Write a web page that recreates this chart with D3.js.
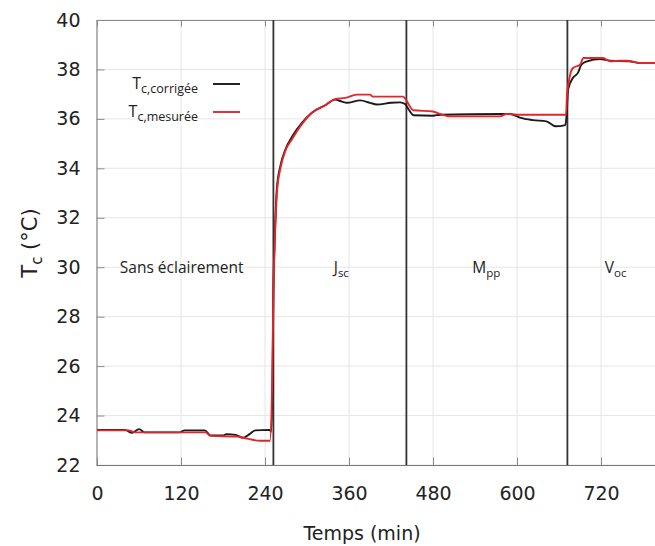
<!DOCTYPE html>
<html><head><meta charset="utf-8">
<script src="https://cdn.jsdelivr.net/npm/d3@7"></script>
<style>
body{margin:0;background:#fff;}
svg{display:block;}
</style></head>
<body>
<svg id="chart" width="655" height="546"></svg>
<script>
// ---- data ----
const xTicks = [0, 120, 240, 360, 480, 600, 720];
const yTicks = [22, 24, 26, 28, 30, 32, 34, 36, 38, 40];
const phaseTimes = [252, 442, 672];
const phaseLabels = [
  {t: 121, main: "Sans éclairement", sub: ""},
  {t: 349, main: "J", sub: "sc"},
  {t: 556, main: "M", sub: "pp"},
  {t: 741, main: "V", sub: "oc"}
];
const seriesNames = ["corrigée", "mesurée"];
const tCorr = [0,40,50,60,68,118,125,154,162,180,185,198,209,218,226,246,249,251,252,254,257,262,269,279,293,307,326,340,350,357,376,390,400,420,433,440,446,452,480,490,580,590,604,623,642,655,669,671,673,680,687,692,700,719,733,760,776,800];
const vCorr = [23.42,23.42,23.3,23.45,23.32,23.32,23.4,23.4,23.2,23.2,23.25,23.22,23.1,23.25,23.4,23.42,23.35,26,29,31.2,33.2,34.1,34.75,35.3,35.85,36.25,36.55,36.78,36.7,36.65,36.75,36.65,36.58,36.65,36.67,36.6,36.35,36.15,36.13,36.17,36.2,36.2,36.05,35.95,35.9,35.7,35.75,36.2,37.2,37.66,37.86,38.19,38.33,38.42,38.35,38.33,38.26,38.26];
const tMes = [0,45,55,155,162,200,209,233,247,250,252,254,257,262,269,279,293,307,326,340,355,371,390,394,437,442,447,452,480,490,505,576,585,600,670,671.5,674,676,680,690,695,723,733,748,757,776,800];
const vMes = [23.4,23.4,23.32,23.32,23.18,23.15,23.1,22.98,22.98,25,29,31,33,34,34.7,35.2,35.8,36.25,36.55,36.8,36.85,36.98,36.98,36.9,36.9,36.75,36.5,36.35,36.3,36.2,36.1,36.1,36.2,36.17,36.17,37.0,37.5,37.8,38.06,38.19,38.46,38.46,38.33,38.35,38.35,38.26,38.26];

// ---- layout ----
const svg = d3.select("#chart");
const L = 97, R = 657, T = 20, B = 465;
const x = d3.scaleLinear().domain([0, 800]).range([L, R]);
const y = d3.scaleLinear().domain([22, 40]).range([B, T]);
const tickFont = "DejaVu Sans, sans-serif";
const labFont = "'Open Sans', 'Noto Sans', sans-serif";

svg.append("defs").append("clipPath").attr("id","clip")
  .append("rect").attr("x", L).attr("y", T).attr("width", R - L).attr("height", B - T);

// grid
const grid = svg.append("g");
grid.selectAll("line.gy").data(yTicks).join("line")
  .attr("x1", L).attr("x2", 655).attr("y1", d => y(d)).attr("y2", d => y(d))
  .attr("stroke", "#e6e6e6").attr("stroke-width", 1);
grid.selectAll("line.gx").data(xTicks).join("line")
  .attr("y1", T).attr("y2", B).attr("x1", d => x(d)).attr("x2", d => x(d))
  .attr("stroke", "#e6e6e6").attr("stroke-width", 1);

// axes (ticks inward)
const yAxis = svg.append("g").attr("transform", `translate(${L-0.5},0)`)
  .call(d3.axisLeft(y).tickValues(yTicks).tickSize(-8).tickPadding(16).tickFormat(d3.format("d")));
const xAxis = svg.append("g").attr("transform", `translate(0,${B+0.5})`)
  .call(d3.axisBottom(x).tickValues(xTicks).tickSize(-8).tickPadding(16).tickFormat(d3.format("d")));
const xTop = svg.append("g").attr("transform", `translate(0,${T+0.5})`)
  .call(d3.axisTop(x).tickValues(xTicks).tickSize(-6).tickFormat(""));
[yAxis, xAxis, xTop].forEach(a => {
  a.select(".domain").attr("stroke", "#8a8a8a").attr("stroke-width", 1.2);
  a.selectAll(".tick line").attr("stroke", "#8a8a8a");
  a.selectAll("text").attr("font-family", tickFont).attr("font-size", 19).attr("fill", "#222");
});
xTop.select(".domain").attr("d", `M${L},0H655`);
xAxis.select(".domain").attr("d", `M${L},0H655`).attr("stroke", "#777");
xAxis.selectAll("text").attr("dy", "0.95em");

// phase lines
svg.append("g").selectAll("line").data(phaseTimes).join("line")
  .attr("x1", d => x(d)).attr("x2", d => x(d)).attr("y1", T).attr("y2", B)
  .attr("stroke", "#333").attr("stroke-width", 1.8);

// series
const line = d3.line().x(d => x(d[0])).y(d => y(d[1])).curve(d3.curveMonotoneX);
const dataCorr = tCorr.map((t, i) => [t, vCorr[i]]);
const dataMes = tMes.map((t, i) => [t, vMes[i]]);
const plot = svg.append("g").attr("clip-path", "url(#clip)");
plot.append("path").datum(dataCorr).attr("d", line)
  .attr("fill", "none").attr("stroke", "#1a1a1a").attr("stroke-width", 1.9).attr("stroke-linejoin", "round");
plot.append("path").datum(dataMes).attr("d", line)
  .attr("fill", "none").attr("stroke", "#e3262b").attr("stroke-width", 1.9).attr("stroke-linejoin", "round");

// phase labels
phaseLabels.forEach(p => {
  const t = svg.append("text").attr("x", x(p.t)).attr("y", 273)
    .attr("text-anchor", "middle").attr("font-family", labFont).attr("font-size", 15.5).attr("fill", "#222");
  t.append("tspan").text(p.main);
  if (p.sub) t.append("tspan").attr("font-size", 11.5).attr("dy", 4).text(p.sub);
});

// legend
const legColors = ["#1a1a1a", "#e3262b"];
seriesNames.forEach((n, i) => {
  const yy = 89 + i * 28;
  const t = svg.append("text").attr("x", 198).attr("y", yy).attr("text-anchor", "end")
    .attr("font-family", labFont).attr("font-size", 16).attr("fill", "#222");
  t.append("tspan").text("T");
  t.append("tspan").attr("font-size", 12.5).attr("dy", 4).text("c," + n);
  svg.append("line").attr("x1", 213).attr("x2", 240).attr("y1", yy - 5).attr("y2", yy - 5)
    .attr("stroke", legColors[i]).attr("stroke-width", 1.9);
});

// axis titles
svg.append("text").attr("x", 362).attr("y", 540).attr("text-anchor", "middle")
  .attr("font-family", tickFont).attr("font-size", 19).attr("fill", "#222").text("Temps (min)");
const yt = svg.append("text").attr("transform", "translate(37,243) rotate(-90)").attr("text-anchor", "middle")
  .attr("font-family", tickFont).attr("font-size", 21).attr("fill", "#222");
yt.append("tspan").text("T");
yt.append("tspan").attr("font-size", 15).attr("dy", 5).text("c");
yt.append("tspan").attr("dy", -5).text(" (°C)");
</script>
</body></html>
